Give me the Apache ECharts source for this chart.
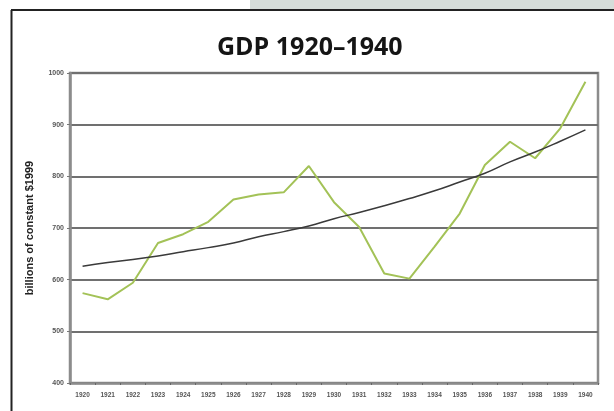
<!DOCTYPE html>
<html>
  <head>
    <meta charset="utf-8" />
    <title>GDP 1920-1940</title>
    <script src="https://cdn.jsdelivr.net/npm/echarts@6.0.0/dist/echarts.min.js"></script>
  </head>
  <body style="margin: 0; background: #fff">
    <div id="main" style="width: 614px; height: 411px"></div>
    <script type="text/javascript">
      var years = [];
      for (var y = 1920; y <= 1940; y++) years.push(String(y));

      // GDP, billions of constant 1999 dollars
      var gdp = [574, 562, 594, 671, 688, 712, 755, 765, 769, 820, 750,
                 702, 612, 602, 664, 728, 822, 867, 835, 893, 983];
      // trend line as drawn
      var trend = [626, 633, 639, 646, 654, 662, 671, 683, 693, 704, 718,
                   730, 743, 757, 772, 789, 806, 828, 847, 868, 890];

      var myChart = echarts.init(document.getElementById("main"));

      var option = {
        animation: false,
        title: {
          text: "GDP 1920\u20131940",
          top: 30,
          left: 212,
          textStyle: {
            fontFamily: "Open Sans",
            fontWeight: "bold",
            fontSize: 25,
            color: "#151515",
          },
        },
        graphic: [
          { type: "rect", shape: { x: 250, y: 0, width: 364, height: 9 }, style: { fill: "#d5ddd9" } },
          { type: "line", shape: { x1: 11, y1: 10, x2: 614, y2: 10 }, style: { stroke: "#222", lineWidth: 2 } },
          { type: "line", shape: { x1: 11.5, y1: 10, x2: 11.5, y2: 411 }, style: { stroke: "#222", lineWidth: 2 } },
        ],
        grid: {
          left: 70,
          right: 16,
          top: 73,
          bottom: 28,
          show: true,
          borderColor: "#8c8c8c",
          borderWidth: 2.5,
        },
        xAxis: {
          type: "category",
          data: years,
          boundaryGap: true,
          axisLine: { lineStyle: { color: "#8c8c8c", width: 2.5 } },
          axisTick: { show: true, length: 2, lineStyle: { color: "#666" } },
          axisLabel: {
            interval: 0,
            fontSize: 6.5,
            fontWeight: "bold",
            color: "#555",
            margin: 9,
          },
        },
        yAxis: {
          type: "value",
          min: 400,
          max: 1000,
          interval: 100,
          name: "billions of constant $1999",
          nameLocation: "middle",
          nameGap: 35,
          nameTextStyle: {
            fontFamily: "Liberation Sans",
            fontWeight: "bold",
            fontSize: 11,
            color: "#222",
          },
          axisLine: { show: true, lineStyle: { color: "#8c8c8c", width: 2.5 } },
          axisTick: { show: true, length: 3, lineStyle: { color: "#777" } },
          axisLabel: {
            formatter: function (v) { return String(v); },
            fontSize: 7,
            fontWeight: "bold",
            color: "#555",
            margin: 6,
          },
          splitLine: { lineStyle: { color: "#707070", width: 2 } },
        },
        series: [
          {
            name: "GDP",
            type: "line",
            data: gdp,
            symbol: "none",
            lineStyle: { color: "#a3c257", width: 2 },
            z: 3,
          },
          {
            name: "Trend",
            type: "line",
            data: trend,
            symbol: "none",
            smooth: true,
            lineStyle: { color: "#3a3a3a", width: 1.5 },
            z: 4,
          },
        ],
      };
      myChart.setOption(option);
    </script>
  </body>
</html>
